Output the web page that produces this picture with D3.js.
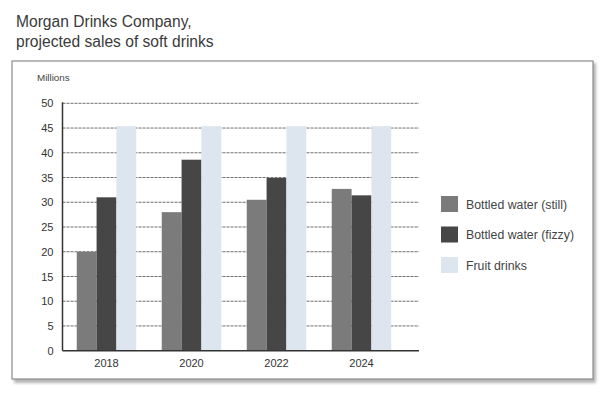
<!DOCTYPE html>
<html>
<head>
<meta charset="utf-8">
<script src="https://cdn.jsdelivr.net/npm/d3@7"></script>
<style>
  body { margin: 0; background: #fff; }
  svg { font-family: "Liberation Sans", Arial, sans-serif; }
</style>
</head>
<body>
<div id="chart"></div>
<script>
// chart data
var years = ["2018", "2020", "2022", "2024"];
var seriesNames = ["Bottled water (still)", "Bottled water (fizzy)", "Fruit drinks"];
var stillValues = [20, 28, 30.5, 32.7];
var fizzyValues = [31, 38.6, 34.9, 31.4];
var fruitValues = [45.4, 45.4, 45.4, 45.4];
var yTicks = [0, 5, 10, 15, 20, 25, 30, 35, 40, 45, 50];
var colors = ["#7b7b7b", "#464646", "#dde6ef"];

var series = [stillValues, fizzyValues, fruitValues];

var width = 600, height = 395;

var svg = d3.select("#chart").append("svg")
	.attr("width", width)
	.attr("height", height);

//Title
var title = svg.append("text")
	.attr("x", 16)
	.attr("y", 27)
	.style("font-size", "15.6px")
	.style("fill", "#3a3a3a");
title.append("tspan").attr("x", 16).text("Morgan Drinks Company,");
title.append("tspan").attr("x", 16).attr("dy", 20).text("projected sales of soft drinks");

//Frame with shadow
svg.append("rect")
	.attr("x", 14).attr("y", 63)
	.attr("width", 582).attr("height", 320)
	.style("fill", "#b5b5b5")
	.style("filter", "blur(1.5px)");
svg.append("rect")
	.attr("x", 12).attr("y", 61)
	.attr("width", 581).attr("height", 318)
	.style("fill", "#fff")
	.style("stroke", "#8c8c8c")
	.style("stroke-width", 1.2);

///////////////////////////////////////////////////////////////////////////
//////////////////////////////// Scales ///////////////////////////////////
///////////////////////////////////////////////////////////////////////////

var x = d3.scaleBand()
	.domain(years)
	.range([64, 404])
	.paddingInner(0.3)
	.paddingOuter(0.15);

var xSub = d3.scaleBand()
	.domain(d3.range(series.length))
	.range([0, x.bandwidth()]);

var y = d3.scaleLinear()
	.domain([0, 50])
	.range([350.7, 103.3]);

var plotLeft = 62.5, plotRight = 419;

//Gridlines
svg.append("g")
	.selectAll("line")
	.data(yTicks.filter(function(d) { return d > 0; }))
	.join("line")
	.attr("x1", plotLeft).attr("x2", plotRight)
	.attr("y1", function(d) { return y(d); })
	.attr("y2", function(d) { return y(d); })
	.style("stroke", "#6e6e6e")
	.style("stroke-width", 1)
	.style("stroke-dasharray", "3,1");

//Bars
var groups = svg.append("g")
	.selectAll("g")
	.data(years)
	.join("g")
	.attr("transform", function(d) { return "translate(" + x(d) + ",0)"; });

groups.selectAll("rect")
	.data(function(d, i) { return series.map(function(s, k) { return {k: k, v: s[i]}; }); })
	.join("rect")
	.attr("x", function(d) { return xSub(d.k); })
	.attr("width", xSub.bandwidth())
	.attr("y", function(d) { return y(d.v); })
	.attr("height", function(d) { return y(0) - y(d.v); })
	.style("fill", function(d) { return colors[d.k]; });

//Axes
var yAxis = svg.append("g")
	.attr("transform", "translate(" + plotLeft + ",0)")
	.call(d3.axisLeft(y).tickValues(yTicks).tickSize(0).tickPadding(9));
yAxis.select(".domain").attr("d", "M0," + (y(50) - 1) + "V" + y(0)).style("stroke", "#333").style("stroke-width", 1.5);
yAxis.selectAll("text").style("font-size", "11px").style("fill", "#333").style("font-family", "Liberation Sans, Arial, sans-serif");

var xAxis = svg.append("g")
	.attr("transform", "translate(0," + y(0) + ")")
	.call(d3.axisBottom(x).tickSize(0).tickPadding(9));
xAxis.select(".domain").attr("d", "M" + plotLeft + ",0H" + plotRight).style("stroke", "#333").style("stroke-width", 1.5);
xAxis.selectAll("text").style("font-size", "11px").style("fill", "#333").style("font-family", "Liberation Sans, Arial, sans-serif");

svg.append("text")
	.attr("x", 37).attr("y", 81)
	.style("font-size", "9.8px")
	.style("fill", "#444")
	.text("Millions");

//Legend
var legend = svg.append("g")
	.selectAll("g")
	.data(seriesNames)
	.join("g")
	.attr("transform", function(d, i) { return "translate(441," + (196 + i * 30.5) + ")"; });

legend.append("rect")
	.attr("width", 17).attr("height", 16)
	.style("fill", function(d, i) { return colors[i]; });

legend.append("text")
	.attr("x", 25).attr("y", 12.5)
	.style("font-size", "12.3px")
	.style("fill", "#444")
	.text(function(d) { return d; });
</script>
</body>
</html>
